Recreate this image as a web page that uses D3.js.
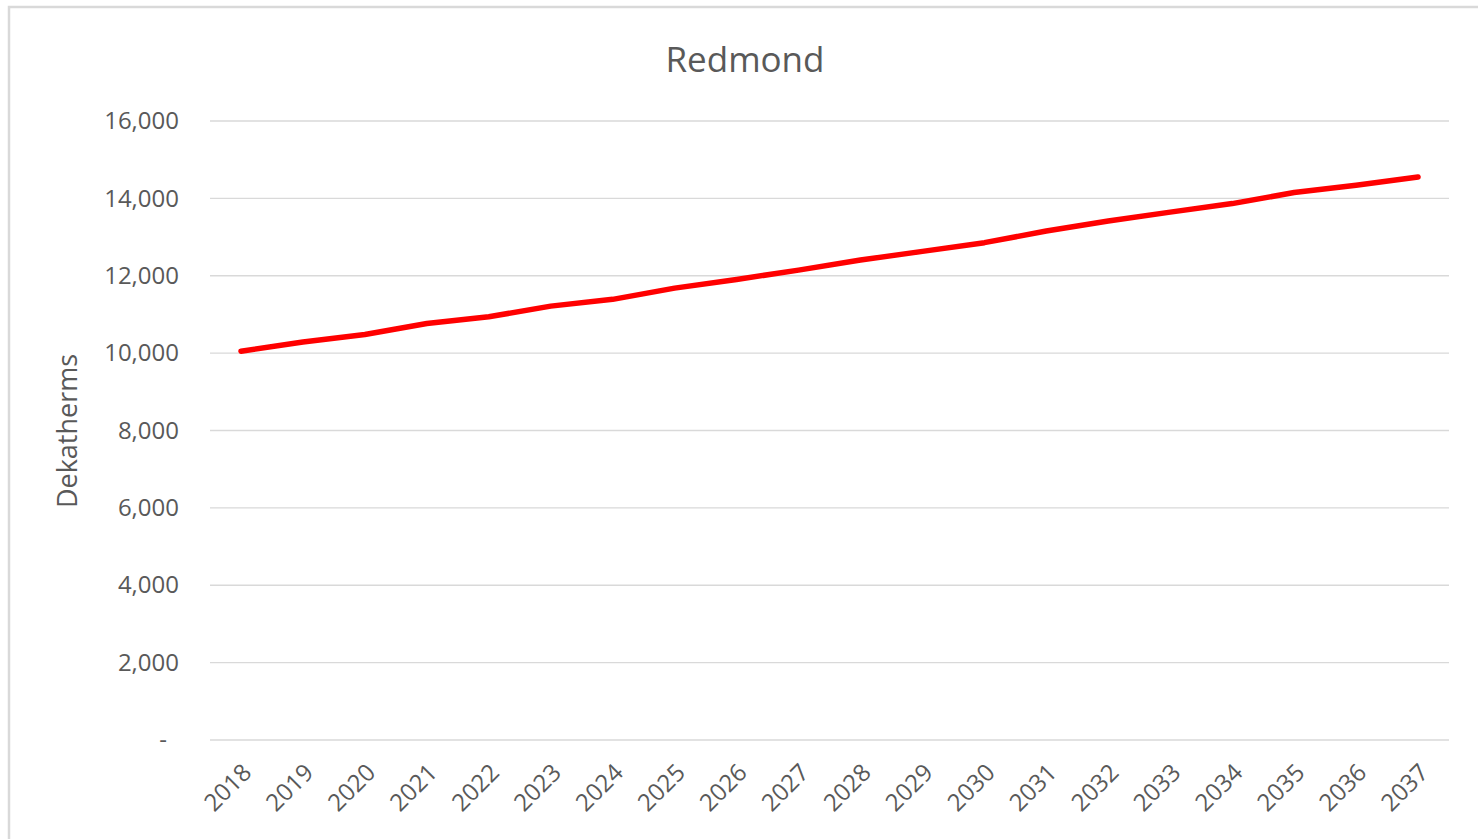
<!DOCTYPE html>
<html>
<head>
<meta charset="utf-8">
<script src="https://cdn.jsdelivr.net/npm/d3@7"></script>
<style>
  body { margin: 0; background: #fff; }
  svg { display: block; font-family: "Open Sans", sans-serif; }
</style>
</head>
<body>
<div id="chart"></div>
<script>
// data
const years = ["2018","2019","2020","2021","2022","2023","2024","2025","2026","2027",
               "2028","2029","2030","2031","2032","2033","2034","2035","2036","2037"];
const dekatherms = [10050, 10290, 10480, 10765, 10940, 11215, 11390, 11680, 11905, 12145,
                    12405, 12630, 12855, 13155, 13415, 13645, 13865, 14150, 14340, 14555];
const yTicks = [0, 2000, 4000, 6000, 8000, 10000, 12000, 14000, 16000];

const W = 1478, H = 839;
const margin = {top: 121, right: 29, bottom: 99, left: 210},
    width = W - margin.left - margin.right,
    height = H - margin.top - margin.bottom;

const svg = d3.select("#chart")
  .append("svg")
    .attr("width", W)
    .attr("height", H);

// chart frame
svg.append("rect")
  .attr("x", 9).attr("y", 7)
  .attr("width", W + 10).attr("height", H + 10)
  .attr("fill", "none")
  .attr("stroke", "#d9d9d9")
  .attr("stroke-width", 2.5);

svg.append("text")
  .attr("x", 745)
  .attr("y", 72)
  .attr("text-anchor", "middle")
  .style("font-size", "35px")
  .style("fill", "#595959")
  .text("Redmond");

const g = svg.append("g")
  .attr("transform", `translate(${margin.left}, ${margin.top})`);

const x = d3.scaleBand()
  .domain(years)
  .range([0, width]);

const y = d3.scaleLinear()
  .domain([0, 16000])
  .range([height, 0]);

// gridlines
g.append("g")
  .selectAll("line")
  .data(yTicks)
  .join("line")
    .attr("x1", 0)
    .attr("x2", width)
    .attr("y1", d => y(d))
    .attr("y2", d => y(d))
    .attr("stroke", "#d9d9d9")
    .attr("stroke-width", 1.3);

// y axis
const fmt = d3.format(",");
const yAxis = g.append("g")
  .call(d3.axisLeft(y).tickValues(yTicks).tickSize(0).tickPadding(31)
    .tickFormat(d => d === 0 ? "-" : fmt(d)));
yAxis.select(".domain").remove();
yAxis.selectAll("text")
  .style("font-size", "24px")
  .style("font-family", "'Open Sans', sans-serif")
  .attr("fill", "#595959");
// accounting style zero sits further left
yAxis.selectAll(".tick")
  .filter(d => d === 0)
  .select("text")
  .attr("x", -43);

// x axis
const xAxis = g.append("g")
  .attr("transform", `translate(0, ${height})`)
  .call(d3.axisBottom(x).tickSize(0));
xAxis.select(".domain").remove();
xAxis.selectAll("text")
  .style("font-size", "24px")
  .style("font-family", "'Open Sans', sans-serif")
  .attr("fill", "#595959")
  .attr("text-anchor", "end")
  .attr("dy", null)
  .attr("y", 0)
  .attr("transform", "translate(12, 34) rotate(-45)");

// axis title
svg.append("text")
  .attr("transform", "translate(77, 431) rotate(-90)")
  .attr("text-anchor", "middle")
  .style("font-size", "27px")
  .style("fill", "#595959")
  .text("Dekatherms");

// line
const line = d3.line()
  .x((d, i) => x(years[i]) + x.bandwidth() / 2)
  .y(d => y(d));

g.append("path")
  .datum(dekatherms)
  .attr("fill", "none")
  .attr("stroke", "#ff0000")
  .attr("stroke-width", 5.5)
  .attr("stroke-linecap", "round")
  .attr("stroke-linejoin", "round")
  .attr("d", line);
</script>
</body>
</html>
